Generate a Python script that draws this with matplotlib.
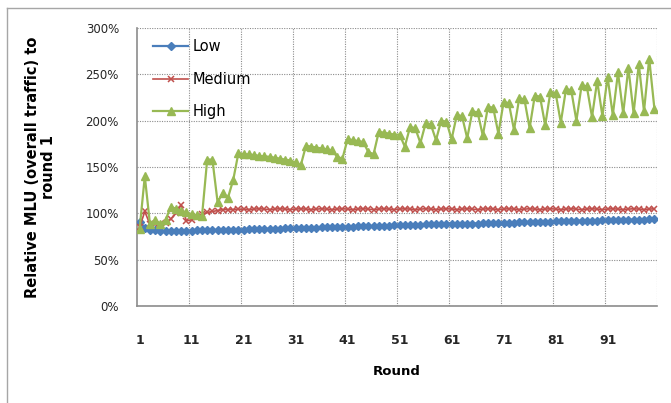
import matplotlib.pyplot as plt
from matplotlib.lines import Line2D

# data (percent of round 1)
rounds = list(range(1, 101))

low = [91, 84, 82, 81.5, 81, 81, 81, 81, 81, 81,
       81, 81.5, 81.5, 81.5, 82, 82, 82, 82, 82.5, 82.5,
       82.5, 83, 83, 83, 83, 83.5, 83.5, 83.5, 84, 84,
       84, 84, 84.5, 84.5, 84.5, 85, 85, 85, 85, 85.5,
       85.5, 85.5, 86, 86, 86, 86, 86.5, 86.5, 86.5, 87,
       87, 87, 87.5, 87.5, 87.5, 88, 88, 88, 88, 88.5,
       88.5, 88.5, 89, 89, 89, 89, 89.5, 89.5, 89.5, 90,
       90, 90, 90, 90.5, 90.5, 90.5, 91, 91, 91, 91,
       91.5, 91.5, 91.5, 91.5, 92, 92, 92, 92, 92, 92.5,
       92.5, 92.5, 92.5, 93, 93, 93, 93, 93, 93.5, 93.5]

medium = [85, 102, 88, 88, 89, 90, 94, 100, 109, 92,
          93, 96, 99, 101, 102, 103, 104, 104, 104, 104.5,
          104.5, 104, 104.5, 105, 104.5, 104, 104.5, 105, 104.5, 104,
          104.5, 105, 104.5, 104, 104.5, 105, 104.5, 104, 104.5, 105,
          104.5, 104, 104.5, 105, 104.5, 104, 104.5, 105, 104.5, 104,
          104.5, 105, 104.5, 104, 104.5, 105, 104.5, 104, 104.5, 105,
          104.5, 104, 104.5, 105, 104.5, 104, 104.5, 105, 104.5, 104,
          104.5, 105, 104.5, 104, 104.5, 105, 104.5, 104, 104.5, 105,
          104.5, 104, 104.5, 105, 104.5, 104, 104.5, 105, 104.5, 104,
          104.5, 105, 104.5, 104, 104.5, 105, 104.5, 104, 104.5, 105]

high = [83, 140, 88, 93, 88, 93, 107, 105, 103, 101,
        99, 98, 97, 158, 158, 112, 122, 117, 136, 165,
        164, 163.5, 163, 162, 161.5, 161, 160, 159, 158, 157,
        155, 152, 173, 172, 171, 170, 169, 168, 161, 159,
        180, 179, 178, 177, 166, 164, 188, 187, 186, 185,
        185, 172, 193, 192, 176, 197, 196, 179, 200, 199,
        180, 206, 205, 181, 210, 209, 184, 215, 214, 186,
        220, 219, 190, 224, 223, 192, 227, 226, 195, 231,
        230, 198, 234, 233, 200, 238, 237, 204, 243, 205,
        247, 206, 252, 208, 257, 208, 261, 210, 267, 213]

series_names = ['Low', 'Medium', 'High']
x_tick_pos = [1, 11, 21, 31, 41, 51, 61, 71, 81, 91]
y_ticks = [0, 50, 100, 150, 200, 250, 300]

W, H = 671, 403
fig = plt.figure(figsize=(W / 100, H / 100), dpi=100)
plt.rcParams['font.family'] = ['DejaVu Sans']

# outer chart-area border (only top and left are visible in the crop)
fig.add_artist(Line2D([7 / W, 7 / W], [1 - 8 / H, 0], transform=fig.transFigure,
                      color='#a6a6a6', lw=1))
fig.add_artist(Line2D([7 / W, 1], [1 - 8 / H, 1 - 8 / H], transform=fig.transFigure,
                      color='#a6a6a6', lw=1))

ax = fig.add_axes([137 / W, 1 - 306 / H, 520 / W, 278 / H])

ax.plot(rounds, low, color='#4a7ebb', lw=1.6, marker='D', ms=4,
        mec='#4a7ebb', label=series_names[0], zorder=3)
ax.plot(rounds, medium, color='#c0504d', lw=1.2, marker='x', ms=5, mew=1.1,
        label=series_names[1], zorder=4)
ax.plot(rounds, high, color='#98b954', lw=1.6, marker='^', ms=6,
        mec='#98b954', label=series_names[2], zorder=5)

ax.set_xlim(0.5, 100.5)
ax.set_ylim(0, 300)

ax.set_yticks(y_ticks)
ax.set_yticklabels([f'{v}%' for v in y_ticks], fontsize=8.5, color='#262626')
ax.set_xticks(x_tick_pos)
ax.set_xticklabels([str(v) for v in x_tick_pos], fontsize=9, fontweight='bold',
                   color='#262626')
ax.set_xticks([10.5 + 10 * i for i in range(10)], minor=True)
ax.tick_params(axis='x', which='major', length=0, pad=20)
ax.tick_params(axis='x', which='minor', length=0)
ax.tick_params(axis='y', length=0, pad=13)

grid_kw = dict(color='#8c8c8c', lw=0.8, ls=(0, (1, 1.2)))
ax.grid(axis='y', which='major', **grid_kw)
ax.grid(axis='x', which='minor', **grid_kw)
ax.grid(axis='x', which='major', visible=False)
ax.set_axisbelow(True)

for side in ['top', 'right']:
    ax.spines[side].set_visible(False)
for side in ['left', 'bottom']:
    ax.spines[side].set_color('#8c8c8c')
    ax.spines[side].set_linewidth(1.2)

ax.set_xlabel('Round', fontsize=9.5, fontweight='bold', labelpad=13)
ax.set_ylabel('Relative MLU (overall traffic) to\nround 1', fontsize=10.5,
              fontweight='bold', labelpad=21, linespacing=1.15)

ax.legend(loc='upper left', bbox_to_anchor=(146 / W, 1 - 32 / H),
          bbox_transform=fig.transFigure, frameon=False, fontsize=10.5,
          handlelength=2.4, handletextpad=0.3, labelspacing=1.2, borderpad=0)

fig.savefig('out.png', dpi=100)
